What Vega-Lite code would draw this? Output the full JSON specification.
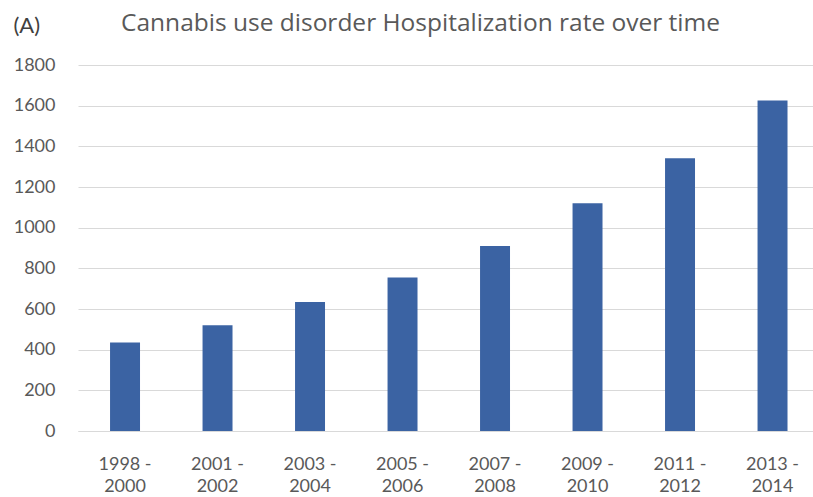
{
  "$schema": "https://vega.github.io/schema/vega-lite/v6.json",
  "autosize": {"type": "none"},
  "padding": {"left": 78, "top": 65, "right": 0, "bottom": 66},
  "width": 735,
  "height": 366,
  "background": "#ffffff",
  "title": {
    "text": "Cannabis use disorder Hospitalization rate over time",
    "font": "Open Sans",
    "fontSize": 24.5,
    "fontWeight": "normal",
    "color": "#595959",
    "anchor": "middle",
    "dx": -25,
    "offset": -22
  },
  "data": {
    "values": [
      {"period": "1998 - 2000", "rate": 435},
      {"period": "2001 - 2002", "rate": 520},
      {"period": "2003 - 2004", "rate": 635},
      {"period": "2005 - 2006", "rate": 755},
      {"period": "2007 - 2008", "rate": 910},
      {"period": "2009 - 2010", "rate": 1120},
      {"period": "2011 - 2012", "rate": 1342},
      {"period": "2013 - 2014", "rate": 1625}
    ]
  },
  "mark": {"type": "bar", "color": "#3b63a3"},
  "encoding": {
    "x": {
      "field": "period",
      "type": "nominal",
      "sort": null,
      "scale": {"paddingInner": 0.676, "paddingOuter": 0.311, "align": 0.557},
      "axis": {
        "title": null,
        "labelAngle": 0,
        "ticks": false,
        "domainColor": "#d9d9d9",
        "labelFont": "Lato",
        "labelFontSize": 18,
        "labelColor": "#595959",
        "labelPadding": 24,
        "labelBaseline": "top",
        "labelLineHeight": 22,
        "labelExpr": "[split(datum.value, ' - ')[0] + ' -', split(datum.value, ' - ')[1]]"
      }
    },
    "y": {
      "field": "rate",
      "type": "quantitative",
      "scale": {"domain": [0, 1800]},
      "axis": {
        "values": [0, 200, 400, 600, 800, 1000, 1200, 1400, 1600, 1800],
        "format": "d",
        "title": "(A)",
        "titleAngle": 0,
        "titleAlign": "left",
        "titleBaseline": "middle",
        "titleX": -65,
        "titleY": -40,
        "titleFont": "Lato",
        "titleFontSize": 22,
        "titleFontWeight": "normal",
        "titleColor": "#404040",
        "domain": false,
        "ticks": false,
        "grid": true,
        "gridColor": "#d9d9d9",
        "labelFont": "Lato",
        "labelFontSize": 18,
        "labelColor": "#595959",
        "labelPadding": 23
      }
    }
  },
  "config": {"view": {"stroke": null}}
}
